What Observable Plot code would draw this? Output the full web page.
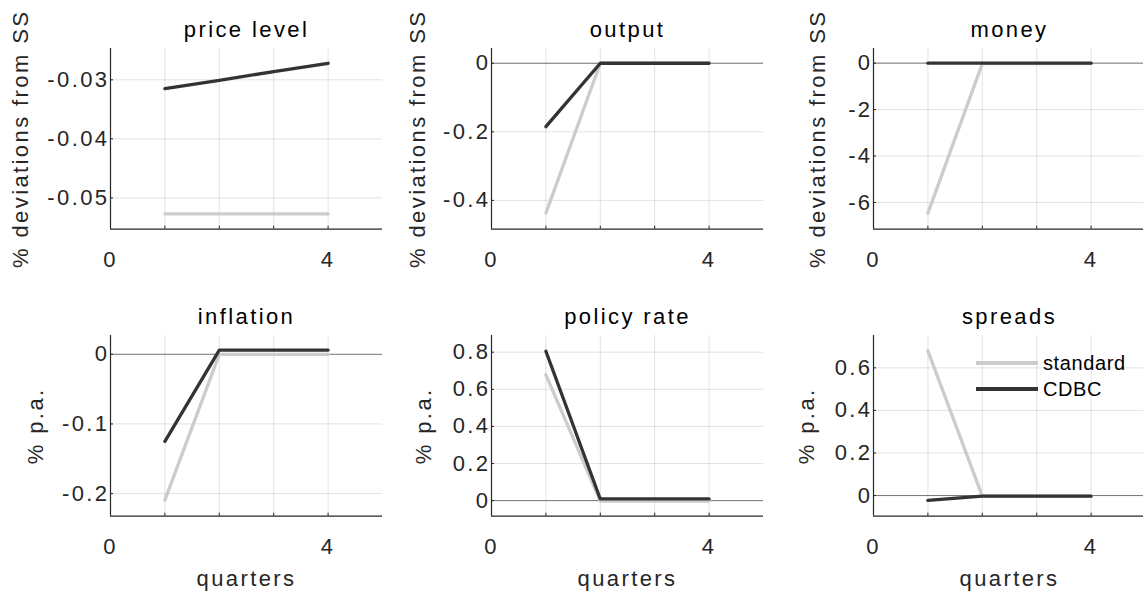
<!DOCTYPE html>
<html><head><meta charset="utf-8">
<script src="https://cdn.jsdelivr.net/npm/d3@7"></script>
<script src="https://cdn.jsdelivr.net/npm/@observablehq/plot@0.6"></script>
<style>
html,body{margin:0;padding:0;background:#fff;}
#fig{position:relative;width:1143px;height:597px;overflow:hidden;font-family:"Liberation Sans",Arial,sans-serif;}
#fig svg{position:absolute;overflow:visible;max-width:none;background:transparent;}
.legend{position:absolute;left:976px;top:350px;font-size:20px;letter-spacing:0.6px;color:#000;line-height:26px;}
.legend div{display:flex;align-items:center;height:26px;}
.legend span.sw{display:inline-block;width:62px;height:3.3px;margin-right:5px;}
</style></head><body><div id="fig"></div>
<script>
// ---- data ----
const quarters = [1, 2, 3, 4];
const xTicks = [0, 1, 2, 3, 4];
const xTickLabels = ["0", "", "", "", "4"];
const xDomain = [0, 5];
const seriesNames = ["standard", "CDBC"];
const seriesColors = ["#cccccc", "#333333"];

const titles = ["price level", "output", "money", "inflation", "policy rate", "spreads"];
const yLabels = ["% deviations from SS", "% deviations from SS", "% deviations from SS", "% p.a.", "% p.a.", "% p.a."];
const xLabel = "quarters";

const priceStandard = [-0.0527, -0.0527, -0.0527, -0.0527];
const priceCDBC = [-0.0315, -0.0301, -0.0286, -0.0272];
const outputStandard = [-0.437, 0, 0, 0];
const outputCDBC = [-0.185, 0, 0, 0];
const moneyStandard = [-6.46, -0.02, -0.02, -0.02];
const moneyCDBC = [0, 0, 0, 0];
const inflationStandard = [-0.2095, 0, 0, 0];
const inflationCDBC = [-0.125, 0.006, 0.006, 0.006];
const policyStandard = [0.678, -0.002, -0.002, -0.002];
const policyCDBC = [0.805, 0.009, 0.009, 0.009];
const spreadsStandard = [0.68, -0.003, -0.003, -0.003];
const spreadsCDBC = [-0.023, -0.003, -0.003, -0.003];

const yDomains = [[-0.0553, -0.0247], [-0.484, 0.043], [-7.15, 0.63], [-0.2325, 0.027], [-0.084, 0.89], [-0.097, 0.752]];
const yTickSets = [[-0.05, -0.04, -0.03], [-0.4, -0.2, 0], [-6, -4, -2, 0], [-0.2, -0.1, 0], [0, 0.2, 0.4, 0.6, 0.8], [0, 0.2, 0.4, 0.6]];
const yTickFormats = [d => d.toFixed(2), d => (d === 0 ? "0" : d.toFixed(1)), d => String(d), d => (d === 0 ? "0" : d.toFixed(1)), d => (d === 0 ? "0" : d.toFixed(1)), d => (d === 0 ? "0" : d.toFixed(1))];

const standardSeries = [priceStandard, outputStandard, moneyStandard, inflationStandard, policyStandard, spreadsStandard];
const cdbcSeries = [priceCDBC, outputCDBC, moneyCDBC, inflationCDBC, policyCDBC, spreadsCDBC];

// ---- layout ----
const colAxisLeft = [110, 490.7, 873.3];
const rowAxisTop = [48, 334.7];
const axW = 272, axH = 180.7, mL = 110, mT = 48, svgH = 297;
const yLabelDx = [-90, -73.7, -55.8, -75, -67.4, -66.6];

const fig = document.getElementById("fig");
const ink = "#262626";

for (let p = 0; p < 6; p++) {
  const col = p % 3, row = Math.floor(p / 3);
  const yDom = yDomains[p];
  const zeroInside = yDom[0] < 0 && yDom[1] > 0;
  const chart = Plot.plot({
    width: mL + axW,
    height: svgH,
    marginLeft: mL, marginRight: 0,
    marginTop: mT, marginBottom: svgH - mT - axH,
    style: {fontFamily: '"Liberation Sans", Arial, sans-serif', fontSize: "22px", letterSpacing: "2.4px", color: ink, background: "transparent"},
    x: {domain: xDomain, axis: null},
    y: {domain: yDom, axis: null},
    marks: [
      Plot.gridY(yTickSets[p], {stroke: ink, strokeOpacity: 0.13}),
      Plot.gridX(quarters, {stroke: ink, strokeOpacity: 0.13}),
      zeroInside ? Plot.ruleY([0], {stroke: "#777777", strokeWidth: 1}) : null,
      Plot.line(quarters, {x: quarters, y: standardSeries[p], stroke: seriesColors[0], strokeWidth: 3.3}),
      Plot.line(quarters, {x: quarters, y: cdbcSeries[p], stroke: seriesColors[1], strokeWidth: 3.3}),
      Plot.ruleX([xDomain[0]], {stroke: ink, strokeWidth: 1.2}),
      Plot.ruleY([yDom[0]], {stroke: ink, strokeWidth: 1.2}),
      Plot.tickY(yTickSets[p], {stroke: ink, insetRight: axW - 3}),
      Plot.tickX(quarters, {stroke: ink, insetTop: axH - 3}),
      Plot.text(yTickSets[p], {y: d => d, text: yTickFormats[p], frameAnchor: "left", textAnchor: "end", dx: -1, lineAnchor: "middle", fill: ink}),
      Plot.text(xTicks, {x: d => d, text: (d, i) => xTickLabels[i], frameAnchor: "bottom", textAnchor: "middle", dy: 22, lineAnchor: "top", fill: ink}),
      Plot.text([titles[p]], {frameAnchor: "top", textAnchor: "middle", dy: -11.5, lineAnchor: "bottom", fill: "#000"}),
      Plot.text([yLabels[p]], {frameAnchor: "left", textAnchor: "middle", dx: yLabelDx[p], rotate: -90, lineAnchor: "middle", fill: ink}),
      row === 1 ? Plot.text([xLabel], {frameAnchor: "bottom", textAnchor: "middle", dy: 69.7, lineAnchor: "bottom", fill: ink}) : null
    ]
  });
  chart.style.left = (colAxisLeft[col] - mL) + "px";
  chart.style.top = (rowAxisTop[row] - mT) + "px";
  fig.appendChild(chart);
}

// legend (in spreads panel)
const leg = document.createElement("div");
leg.className = "legend";
seriesNames.forEach((name, i) => {
  const r = document.createElement("div");
  const sw = document.createElement("span");
  sw.className = "sw";
  sw.style.background = seriesColors[i];
  r.appendChild(sw);
  r.appendChild(document.createTextNode(name));
  leg.appendChild(r);
});
fig.appendChild(leg);
</script></body></html>
